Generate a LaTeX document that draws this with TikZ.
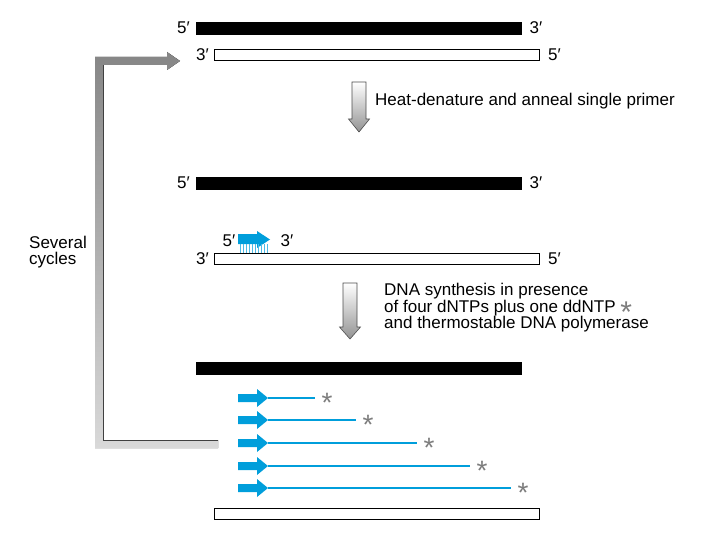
\documentclass[tikz,border=0pt]{standalone}
\usepackage{fontspec}
\setmainfont{Liberation Sans}
\usetikzlibrary{positioning,arrows.meta}
\definecolor{primerblue}{RGB}{0,158,219}
\definecolor{stargray}{RGB}{125,125,125}
\tikzset{
  strandA/.style={fill=black, draw=black, inner sep=0pt, minimum width=325pt, minimum height=12pt, anchor=west},
  strandB/.style={fill=white, draw=black, line width=1pt, inner sep=0pt, minimum width=325pt, minimum height=11pt, anchor=west},
  endlabel/.style={font=\fontsize{17}{17}\selectfont, inner sep=0pt},
  stepnote/.style={font=\fontsize{17}{16.5}\selectfont, align=left, anchor=west, inner sep=0pt},
  stepshaft/.style={top color=white, bottom color=gray!85, draw=gray!60!black, line width=0.6pt},
  primerhead/.style={fill=primerblue, draw=none},
  newstrand/.style={primerblue, line width=2pt},
  ddstar/.style={stargray, font=\fontsize{28}{28}\selectfont, inner sep=0pt, anchor=north},
  loopbody/.style={top color=gray!95, bottom color=gray!30, draw=none},
}
\begin{document}
\begin{tikzpicture}[x=1pt,y=1pt,yscale=-1]
  \path[use as bounding box] (0,0) rectangle (720,540);

  %Template duplex
  \node[strandA] (topA) at (196,28) {};
  \node[strandB] (topB) at (214,55) {};
  \node[endlabel, left=6pt of topA] (topA5) {5′};
  \node[endlabel, right=8pt of topA] (topA3) {3′};
  \node[endlabel, left=5pt of topB] (topB3) {3′};
  \node[endlabel, right=8pt of topB] (topB5) {5′};

  %Step arrow 1
  \draw[stepshaft] (352,82) -- (366,82) -- (366,119) -- (369.5,119) -- (359,132) -- (348.5,119) -- (352,119) -- cycle;
  \node[stepnote] (heat) at (375,101) {Heat-denature and anneal single primer};

  %Separated strands with primer
  \node[strandA] (midA) at (196,183) {};
  \node[strandB] (midB) at (214,259) {};
  \node[endlabel, left=6pt of midA] (midA5) {5′};
  \node[endlabel, right=8pt of midA] (midA3) {3′};
  \node[endlabel, left=5pt of midB] (midB3) {3′};
  \node[endlabel, right=8pt of midB] (midB5) {5′};

  \fill[primerhead] (238,234) -- (257,234) -- (257,231) -- (270,239.5) -- (257,248) -- (257,244) -- (238,244) -- cycle;
  \foreach \x in {240,243,...,267}
    \draw[primerblue!70, line width=0.7pt] (\x,244) -- (\x,253);
  \node[endlabel] (primer5) at (229,241) {5′};
  \node[endlabel] (primer3) at (287,241) {3′};

  %Step arrow 2
  \draw[stepshaft] (343,283) -- (357,283) -- (357,327) -- (360.5,327) -- (350,339) -- (339.5,327) -- (343,327) -- cycle;
  \node[stepnote] (synth) at (384,308) {DNA synthesis in presence\\of four dNTPs plus one ddNTP {\color{stargray}\fontsize{30}{16}\selectfont\smash{\raisebox{-10pt}{*}}}\\and thermostable DNA polymerase};

  %Terminated products
  \node[strandA] (botA) at (196,368) {};
  \foreach \y/\e [count=\i] in {398/315,420/356,443/417,466/470,488/511}{
    \fill[primerhead] (238,\y-4) -- (257,\y-4) -- (257,\y-9) -- (268,\y) -- (257,\y+9) -- (257,\y+4) -- (238,\y+4) -- cycle;
    \draw[newstrand] (268,\y) -- (\e,\y);
    \node[ddstar] (star\i) at (\e+12,\y-5) {*};
  }
  \node[strandB] (botB) at (214,514) {};

  %Several cycles loop
  \coordinate (loopstart) at (218,444);
  \coordinate (looptip) at (180,61);
  \fill[loopbody] ([yshift=-4pt]loopstart) -- ([xshift=-115pt,yshift=-4pt]loopstart) -- ([xshift=-77pt,yshift=4pt]looptip) -- ([xshift=-13pt,yshift=4pt]looptip) -- ([xshift=-13pt,yshift=9pt]looptip) -- (looptip) -- ([xshift=-13pt,yshift=-9pt]looptip) -- ([xshift=-13pt,yshift=-4pt]looptip) -- ([xshift=-85pt,yshift=-4pt]looptip) -- ([xshift=-123pt,yshift=4pt]loopstart) -- ([yshift=4pt]loopstart) -- cycle;
  \draw[black!75, line width=1pt] ([yshift=-4pt]loopstart) -- ([xshift=-115pt,yshift=-4pt]loopstart) -- ([xshift=-77pt,yshift=4pt]looptip);
  \node[stepnote] (cycles) at (29,252) {Several\\cycles};
\end{tikzpicture}
\end{document}
